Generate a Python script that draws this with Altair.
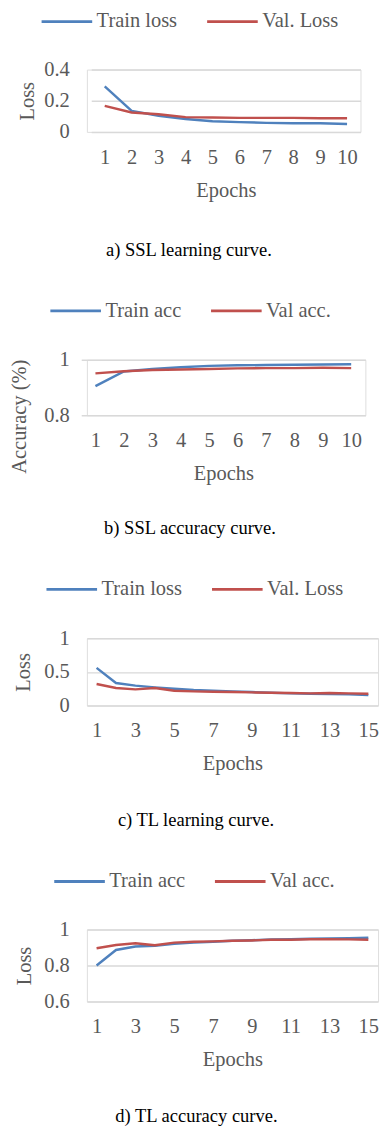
import altair as alt
import pandas as pd

# ---- data ----
ssl_epochs = list(range(1, 11))
ssl_train_loss = [0.292, 0.135, 0.104, 0.083, 0.069, 0.063, 0.058, 0.056, 0.056, 0.051]
ssl_val_loss = [0.167, 0.125, 0.113, 0.095, 0.092, 0.090, 0.090, 0.090, 0.088, 0.088]

ssl_train_acc = [0.905, 0.958, 0.967, 0.973, 0.978, 0.980, 0.981, 0.982, 0.983, 0.984]
ssl_val_acc = [0.951, 0.959, 0.963, 0.965, 0.967, 0.969, 0.970, 0.970, 0.971, 0.970]

tl_epochs = list(range(1, 16))
tl_train_loss = [0.56, 0.335, 0.296, 0.27, 0.25, 0.23, 0.22, 0.21, 0.20, 0.19,
                 0.18, 0.175, 0.17, 0.165, 0.155]
tl_val_loss = [0.32, 0.26, 0.24, 0.26, 0.22, 0.21, 0.205, 0.20, 0.195, 0.19,
               0.185, 0.18, 0.185, 0.18, 0.175]

tl_train_acc = [0.800, 0.886, 0.905, 0.910, 0.920, 0.927, 0.932, 0.937, 0.940, 0.945,
                0.946, 0.948, 0.950, 0.952, 0.954]
tl_val_acc = [0.896, 0.914, 0.923, 0.912, 0.927, 0.932, 0.934, 0.937, 0.939, 0.943,
              0.943, 0.946, 0.946, 0.945, 0.943]

BLUE = "#4F81BD"
RED = "#C0504D"
GRAY = "#595959"
FONT = "Liberation Serif"


def frame(epochs, train, val, names):
    rows = []
    for e, v in zip(epochs, train):
        rows.append({"epoch": e, "value": v, "series": names[0]})
    for e, v in zip(epochs, val):
        rows.append({"epoch": e, "value": v, "series": names[1]})
    return pd.DataFrame(rows)


def panel(epochs, train, val, names, ydom, yvals, ytitle, xvals, caption,
          width, height, xrange=None, ytitle_x=-65, ytitle_y=None,
          legend_x=-50, legend_y=-60, cap_offset=39):
    df = frame(epochs, train, val, names)
    n = len(epochs)
    xscale = dict(domain=[0.5, n + 0.5], nice=False, zero=False)
    if xrange is not None:
        xscale["range"] = xrange
    yaxis = dict(values=yvals, format="~g", title=ytitle, grid=True,
                 gridColor="#D9D9D9", gridWidth=1.5, domain=False, ticks=False,
                 labelFontSize=21, labelFont=FONT, labelColor=GRAY,
                 labelPadding=18, titleFont=FONT, titleFontSize=21,
                 titleColor=GRAY, titleFontWeight="normal", titleX=ytitle_x,
                 titleBaseline="middle")
    if ytitle_y is not None:
        yaxis["titleY"] = ytitle_y
    return alt.Chart(df).mark_line(strokeWidth=2.5).encode(
        x=alt.X("epoch:Q", scale=alt.Scale(**xscale),
                axis=alt.Axis(values=xvals, format="d", grid=False, ticks=False,
                              domain=False, labelFontSize=21, labelFont=FONT,
                              labelColor=GRAY, labelPadding=15, labelFlush=False,
                              labelOverlap=False, title="Epochs", titleFont=FONT,
                              titleFontSize=21, titleColor=GRAY,
                              titleFontWeight="normal", titlePadding=13)),
        y=alt.Y("value:Q", scale=alt.Scale(domain=ydom, nice=False, zero=False),
                axis=alt.Axis(**yaxis)),
        color=alt.Color("series:N",
                        scale=alt.Scale(domain=names, range=[BLUE, RED]),
                        sort=names,
                        legend=alt.Legend(title=None, orient="none",
                                          direction="horizontal",
                                          legendX=legend_x, legendY=legend_y,
                                          symbolType="M0,0H10", symbolSize=108,
                                          symbolStrokeWidth=3, labelOffset=46,
                                          columnPadding=20, labelFontSize=21,
                                          labelFont=FONT, labelColor=GRAY,
                                          padding=0)),
    ).properties(
        width=width, height=height,
        title=alt.TitleParams(caption, orient="bottom", anchor="middle",
                              frame="bounds", fontSize=19, font=FONT,
                              color="#000000", fontWeight="normal",
                              offset=cap_offset),
    )


pa = panel(ssl_epochs, ssl_train_loss, ssl_val_loss, ["Train loss", "Val. Loss"],
           [0, 0.4], [0, 0.2, 0.4], "Loss", ssl_epochs, "a) SSL learning curve.",
           281, 64, xrange=[4.5, 281], ytitle_x=-60.5, legend_x=-57,
           cap_offset=42)
pb = panel(ssl_epochs, ssl_train_acc, ssl_val_acc, ["Train acc", "Val acc."],
           [0.8, 1.0], [0.8, 1.0], "Accuracy (%)", ssl_epochs, "b) SSL accuracy curve.",
           286, 57, xrange=[-5.8, 286], ytitle_x=-69, ytitle_y=58, legend_x=-48,
           legend_y=-61, cap_offset=37)
pc = panel(tl_epochs, tl_train_loss, tl_val_loss, ["Train loss", "Val. Loss"],
           [0, 1], [0, 0.5, 1], "Loss", [1, 3, 5, 7, 9, 11, 13, 15],
           "c) TL learning curve.", 299, 69, ytitle_x=-64.5, legend_x=-52,
           legend_y=-61, cap_offset=39)
pd_ = panel(tl_epochs, tl_train_acc, tl_val_acc, ["Train acc", "Val acc."],
            [0.6, 1.0], [0.6, 0.8, 1.0], "Loss", [1, 3, 5, 7, 9, 11, 13, 15],
            "d) TL accuracy curve.", 299, 74, ytitle_x=-63.5, legend_x=-44,
            cap_offset=39)

chart = alt.vconcat(pa, pb, pc, pd_, spacing=40).resolve_scale(
    color="independent", x="independent", y="independent"
).properties(
    padding={"left": 0, "top": -13, "right": 0, "bottom": 0}
).configure_view(strokeWidth=0).configure(background="white")

chart.save("out.html", embed_options={"renderer": "svg", "actions": False})
